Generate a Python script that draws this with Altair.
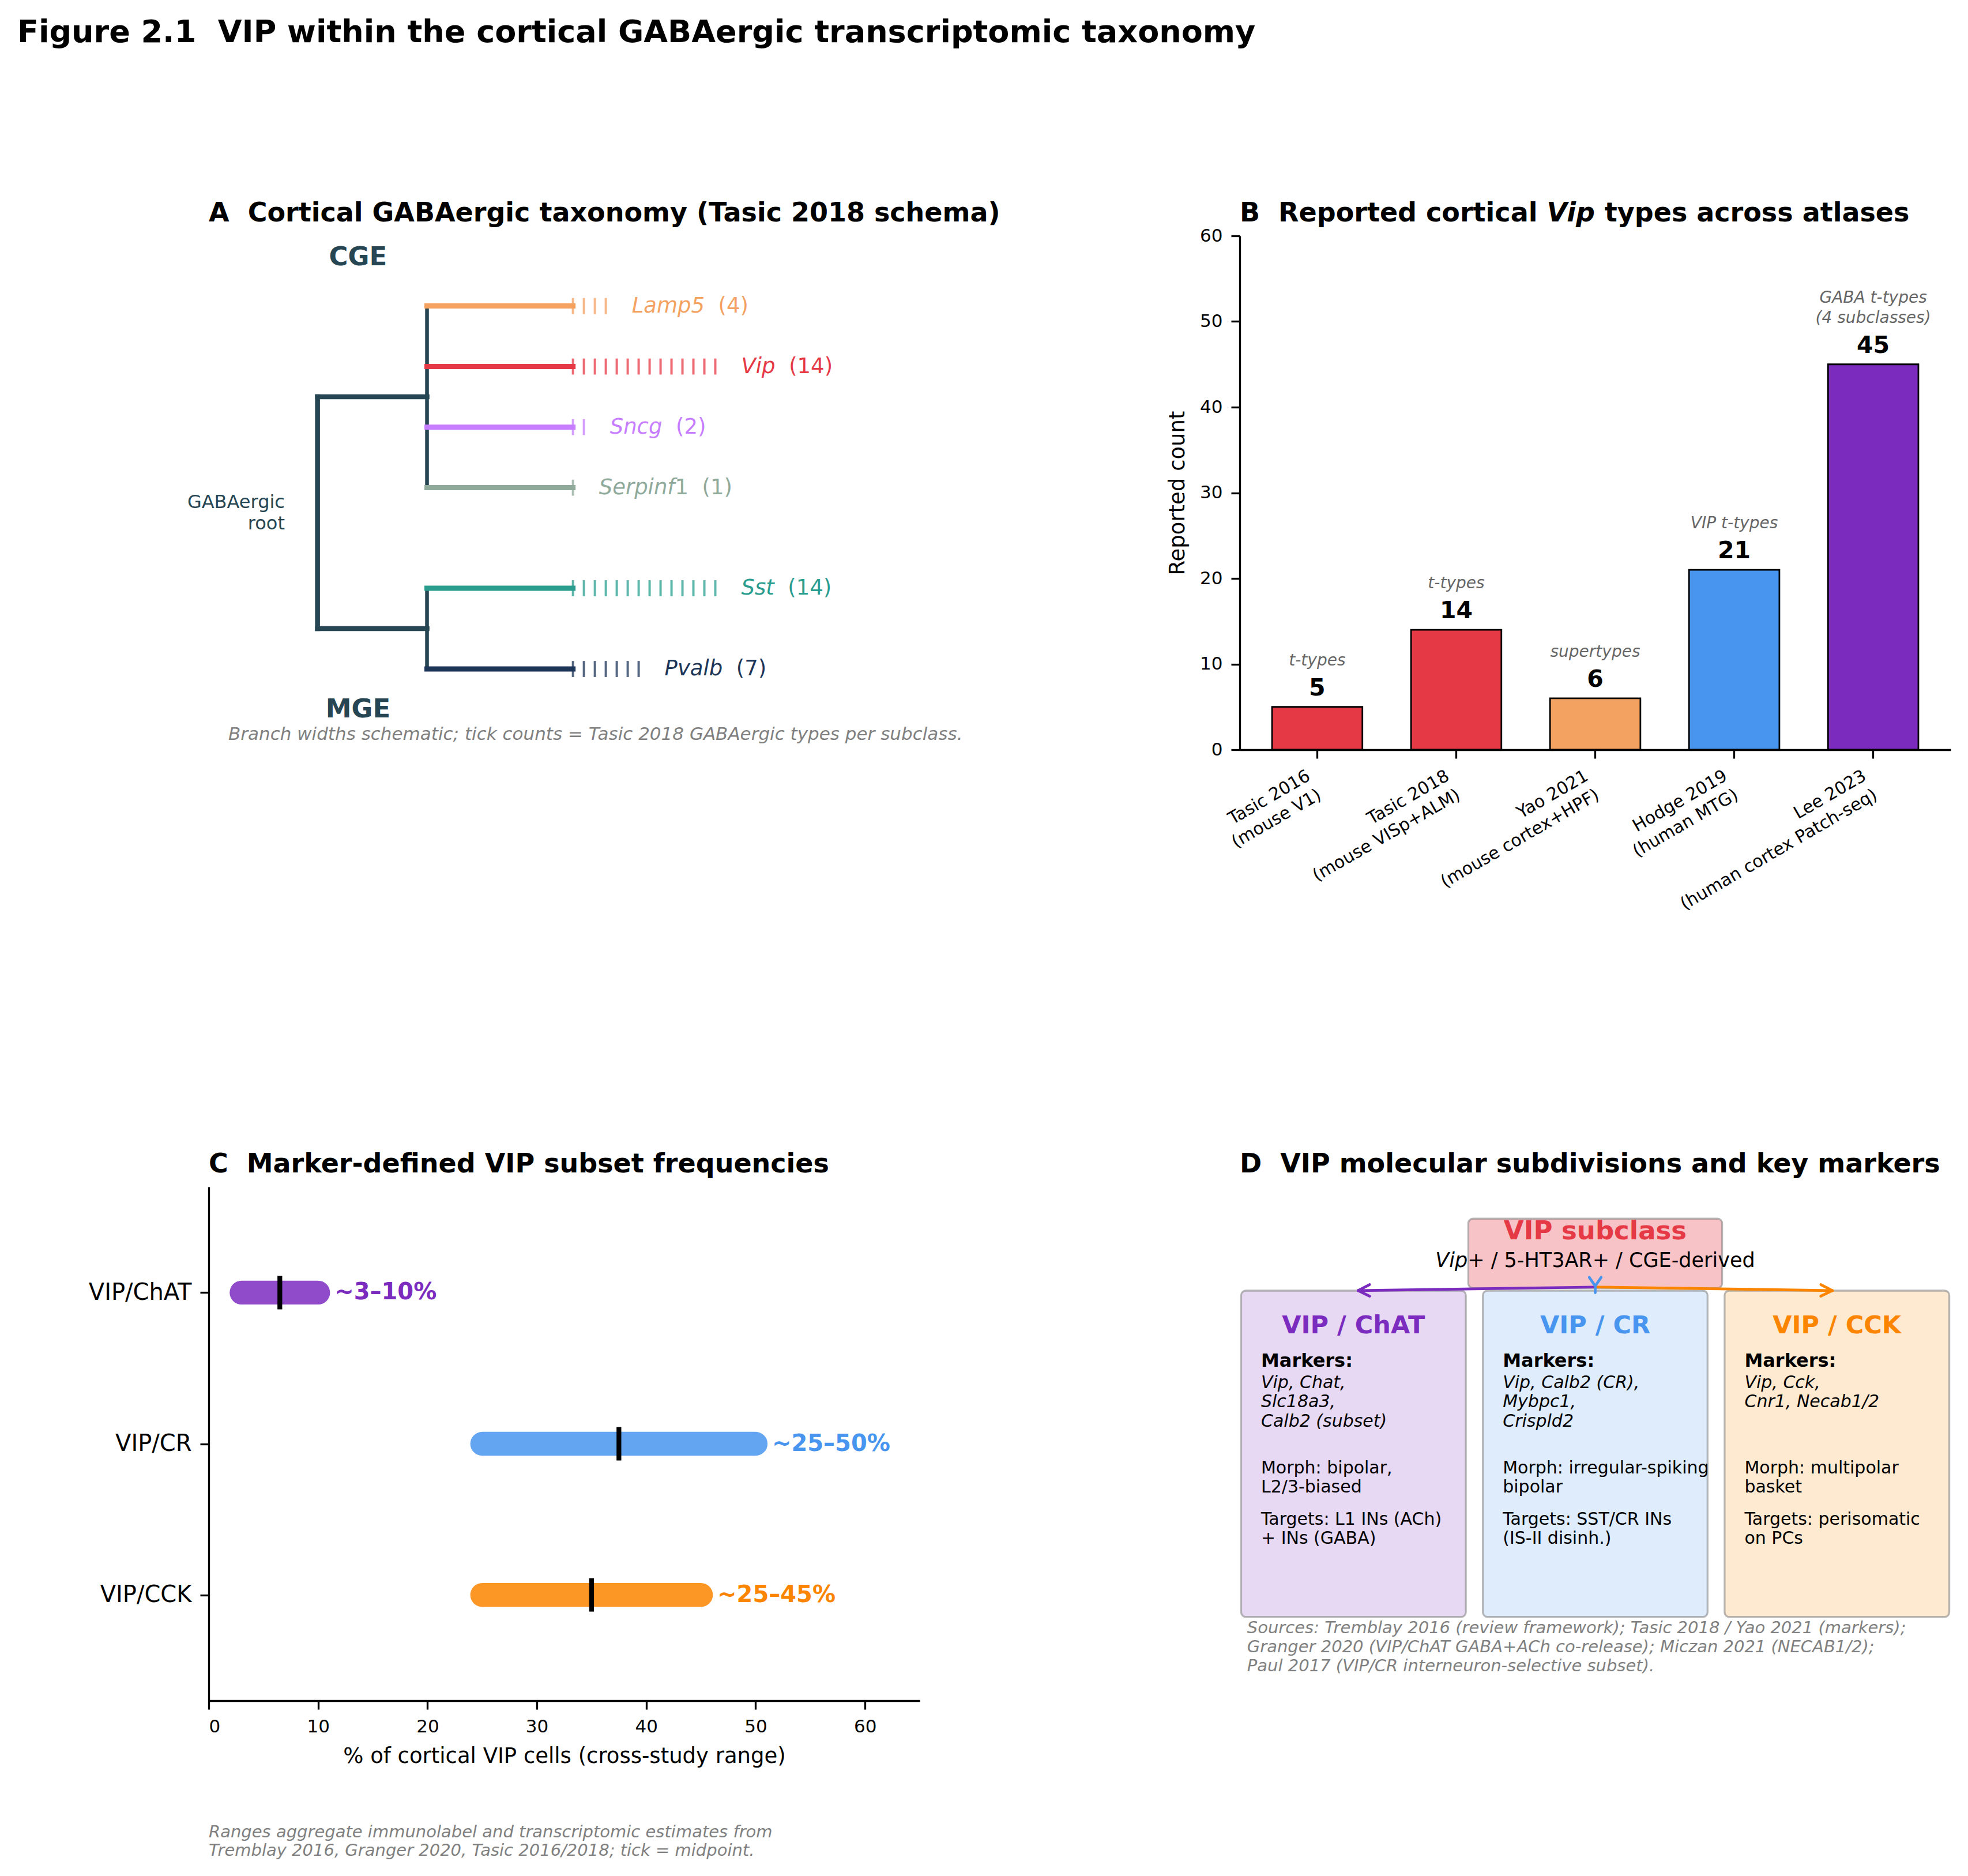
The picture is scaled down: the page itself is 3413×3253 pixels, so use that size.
import math
import altair as alt
import pandas as pd

FONT = "DejaVu Sans"
PW, PH = 1233, 891            # plot area of each panel (px)
COL_GAP, ROW_GAP = 555, 758   # gaps between plot areas
LEFT, TOP = 362, 409          # where the first plot area sits on the page
FIG_W, FIG_H = 3413, 3253
TREE = "#264653"
NOTE = "#808080"

# DejaVu Sans advance widths (em) used to join italic and upright runs
ADV = {" ": .318, "\u00a0": .318, "(": .390, ")": .390, "+": .838, "-": .361, "/": .337,
       ",": .318, ".": .318, "A": .684, "C": .698, "E": .632, "G": .775, "H": .752,
       "L": .557, "P": .603, "R": .695, "S": .635, "T": .611, "V": .684, "a": .613,
       "b": .635, "c": .550, "d": .635, "e": .615, "f": .352, "g": .635, "i": .278,
       "l": .278, "m": .974, "n": .634, "p": .635, "r": .411, "s": .521, "t": .392,
       "v": .592}
ADV.update({str(d): .636 for d in range(10)})
BOLD = {" ": .348, "\u00a0": .348, "B": .762, "R": .770, "V": .774, "a": .675, "c": .593,
        "d": .716, "e": .678, "i": .343, "l": .343, "o": .687, "p": .716, "r": .493, "t": .478}


def text_w(s, size, table=ADV):
    return size * sum(table.get(ch, 0.6) for ch in s)


one = pd.DataFrame({"k": [0]})

# ---------------- A: GABAergic taxonomy ----------------
sub_italic = ["Lamp5", "Vip", "Sncg", "Serpinf", "Sst", "Pvalb"]
sub_upright = ["", "", "", "1", "", ""]
sub_types = [4, 14, 2, 1, 14, 7]
sub_origin = ["CGE", "CGE", "CGE", "CGE", "MGE", "MGE"]
sub_colors = ["#F4A261", "#E63946", "#C77DFF", "#8FA99B", "#2A9D8F", "#1D3557"]
sub_y = [0.8635, 0.7457, 0.6278, 0.5100, 0.3143, 0.1571]

ROOT_X, NODE_X, BRANCH_END = 0.153, 0.307, 0.5123
TICK_STEP, TICK_HALF, LABEL_GAP = 0.0154, 0.0156, 0.0365
LABEL_SIZE = 37

sxA = alt.Scale(domain=[0, 1], nice=False, zero=False)
syA = alt.Scale(domain=[0, 1], nice=False, zero=False)


def ax(f):
    return alt.X(f, type="quantitative", scale=sxA, axis=None)


def ay(f):
    return alt.Y(f, type="quantitative", scale=syA, axis=None)


leaves = pd.DataFrame({"italic": sub_italic, "upright": sub_upright, "n": sub_types,
                       "origin": sub_origin, "color": sub_colors, "y": sub_y})
cge = leaves[leaves.origin == "CGE"].y
mge = leaves[leaves.origin == "MGE"].y
y_cge, y_mge = (cge.max() + cge.min()) / 2, (mge.max() + mge.min()) / 2
tree = pd.DataFrame([
    {"x": ROOT_X, "x2": ROOT_X, "y": y_cge, "y2": y_mge, "w": 8.5},
    {"x": ROOT_X, "x2": NODE_X, "y": y_cge, "y2": y_cge, "w": 8.5},
    {"x": ROOT_X, "x2": NODE_X, "y": y_mge, "y2": y_mge, "w": 8.5},
    {"x": NODE_X, "x2": NODE_X, "y": cge.max(), "y2": cge.min(), "w": 6.5},
    {"x": NODE_X, "x2": NODE_X, "y": mge.max(), "y2": mge.min(), "w": 6.5},
])
leaves["x0"] = NODE_X
leaves["x1"] = BRANCH_END
leaves["lx"] = BRANCH_END + (leaves.n - 1) * TICK_STEP + LABEL_GAP
# the upright part starts after the italic name (plus two spaces when it is only the count)
leaves["cx"] = leaves.lx + [
    (text_w(it, LABEL_SIZE) + (0 if up else text_w("  ", LABEL_SIZE))) / PW
    for it, up in zip(leaves.italic, leaves.upright)]
leaves["count_text"] = [(u + "\u00a0\u00a0" if u else "") + "(" + str(n) + ")"
                        for u, n in zip(leaves.upright, leaves.n)]

tick_rows = []
for _, r in leaves.iterrows():
    for i in range(r.n):
        tx = BRANCH_END + i * TICK_STEP
        tick_rows.append({"x": tx, "y": r.y - TICK_HALF, "y2": r.y + TICK_HALF, "color": r.color})
ticks = pd.DataFrame(tick_rows)

frame = alt.Chart(one).mark_rect(fill="white").encode(
    x=alt.value(-LEFT), x2=alt.value(FIG_W - LEFT), y=alt.value(-TOP), y2=alt.value(FIG_H - TOP))
fig_title = alt.Chart(one).mark_text(
    text="Figure 2.1\u00a0 VIP within the cortical GABAergic transcriptomic taxonomy",
    align="left", baseline="alphabetic", fontSize=54, fontWeight="bold", font=FONT, color="black"
).encode(x=alt.value(30 - LEFT), y=alt.value(73 - TOP))


def panel_title(text):
    return alt.Chart(one).mark_text(text=text, align="left", baseline="alphabetic", fontSize=46,
                                    fontWeight="bold", font=FONT, color="black"
                                    ).encode(x=alt.value(0), y=alt.value(-25))


tree_lines = alt.Chart(tree).mark_rule(color=TREE, strokeCap="square").encode(
    x=ax("x"), x2="x2:Q", y=ay("y"), y2="y2:Q", strokeWidth=alt.StrokeWidth("w:Q", scale=None))
branches = alt.Chart(leaves).mark_rule(strokeWidth=9, strokeCap="square").encode(
    x=ax("x0"), x2="x1:Q", y=ay("y"), color=alt.Color("color:N", scale=None))
tick_marks = alt.Chart(ticks).mark_rule(strokeWidth=4, opacity=0.75).encode(
    x=ax("x"), y=ay("y"), y2="y2:Q", color=alt.Color("color:N", scale=None))
names = alt.Chart(leaves).mark_text(align="left", baseline="middle", fontSize=LABEL_SIZE,
                                    fontStyle="italic", font=FONT).encode(
    x=ax("lx"), y=ay("y"), text="italic:N", color=alt.Color("color:N", scale=None))
counts = alt.Chart(leaves).mark_text(align="left", baseline="middle", fontSize=LABEL_SIZE,
                                     font=FONT).encode(
    x=ax("cx"), y=ay("y"), text="count_text:N", color=alt.Color("color:N", scale=None))
origins = pd.DataFrame({"t": ["CGE", "MGE"], "x": [0.21, 0.21], "y": [0.9589, 0.0786]})
origin_text = alt.Chart(origins).mark_text(align="center", baseline="middle", fontSize=45,
                                           fontWeight="bold", font=FONT, color=TREE).encode(
    x=ax("x"), y=ay("y"), text="t:N")
ROOT_LH = 37
# two-line label centred on the root: raise the first line by half a line
root_text = alt.Chart(pd.DataFrame({"x": [0.107],
                                    "y": [(y_cge + y_mge) / 2 + ROOT_LH / 2 / PH]})).mark_text(
    text="GABAergic\nroot", lineBreak="\n", lineHeight=ROOT_LH, align="right", baseline="middle",
    fontSize=32, font=FONT, color=TREE).encode(x=ax("x"), y=ay("y"))
note_a = alt.Chart(pd.DataFrame({"x": [0.544], "y": [0.0294]})).mark_text(
    text="Branch widths schematic; tick counts = Tasic 2018 GABAergic types per subclass.",
    align="center", baseline="middle", fontSize=31, fontStyle="italic", font=FONT, color=NOTE
).encode(x=ax("x"), y=ay("y"))

panel_a = alt.layer(frame, fig_title, panel_title("A\u00a0 Cortical GABAergic taxonomy (Tasic 2018 schema)"),
                    tree_lines, branches, tick_marks, names, counts, origin_text, root_text, note_a
                    ).properties(width=PW, height=PH)

# ---------------- B: Vip types across atlases ----------------
atlases = ["Tasic 2016\n(mouse V1)", "Tasic 2018\n(mouse VISp+ALM)", "Yao 2021\n(mouse cortex+HPF)",
           "Hodge 2019\n(human MTG)", "Lee 2023\n(human cortex Patch-seq)"]
vip_types = [5, 14, 6, 21, 45]
type_units = ["t-types", "t-types", "supertypes", "VIP t-types", "GABA t-types\n(4 subclasses)"]
atlas_colors = ["#E63946", "#E63946", "#F4A261", "#4895EF", "#7B2CBF"]

AXIS = dict(domainColor="black", domainWidth=3.3, tickColor="black", tickWidth=3.3, tickSize=15,
            labelColor="black", labelFont=FONT, titleFont=FONT, titleColor="black",
            titleFontWeight="normal", grid=False, labelPadding=15)

bdf = pd.DataFrame({"atlas": atlases, "count": vip_types, "unit": type_units, "color": atlas_colors})
bdf["lines"] = bdf.unit.str.count("\n") + 1
xB = alt.X("atlas:N", sort=atlases, scale=alt.Scale(paddingInner=0.35, paddingOuter=0.2325),
           axis=alt.Axis(title=None, labelAngle=330, labelAlign="right", labelBaseline="top",
                         labelFontSize=30, labelLineHeight=38, labelOffset=-22, labelOverlap=False,
                         labelLimit=0, labelExpr="split(datum.label, '\\n')", **AXIS))
yB = alt.Y("count:Q", scale=alt.Scale(domain=[0, 60], nice=False),
           axis=alt.Axis(values=list(range(0, 61, 10)), title="Reported count", titleFontSize=37,
                         titleX=-108, titleY=PH / 2, titleAngle=270, titleAlign="center",
                         titleBaseline="middle", labelFontSize=31, **AXIS))
baseB = alt.Chart(bdf).encode(x=xB, y=yB)
bars = baseB.mark_bar(stroke="black", strokeWidth=2.8).encode(color=alt.Color("color:N", scale=None))
bar_nums = baseB.mark_text(dy=-20, baseline="alphabetic", fontSize=41, fontWeight="bold",
                           font=FONT, color="black").encode(text="count:Q")
UNIT_LH = 35
unit_layers = [
    baseB.transform_filter(f"datum.lines == {k}").mark_text(
        dy=-72 - (k - 1) * UNIT_LH, baseline="alphabetic", lineBreak="\n", lineHeight=UNIT_LH,
        fontSize=28, fontStyle="italic", font=FONT, color="#666666").encode(text="unit:N")
    for k in sorted(bdf.lines.unique())]

b_lead = "B\u00a0 Reported cortical "
vip_x = text_w(b_lead, 46, BOLD)
rest_x = vip_x + text_w("Vip ", 46, BOLD)
title_b = alt.layer(
    alt.Chart(one).mark_text(text=b_lead.strip(), align="left", baseline="alphabetic", fontSize=46,
                             fontWeight="bold", font=FONT, color="black").encode(x=alt.value(0), y=alt.value(-25)),
    alt.Chart(one).mark_text(text="Vip", align="left", baseline="alphabetic", fontSize=46,
                             fontWeight="bold", fontStyle="italic", font=FONT, color="black"
                             ).encode(x=alt.value(vip_x), y=alt.value(-25)),
    alt.Chart(one).mark_text(text="types across atlases", align="left", baseline="alphabetic",
                             fontSize=46, fontWeight="bold", font=FONT, color="black"
                             ).encode(x=alt.value(rest_x), y=alt.value(-25)),
)
panel_b = alt.layer(bars, bar_nums, *unit_layers, title_b).properties(width=PW, height=PH)

# ---------------- C: marker-defined subset frequencies ----------------
subsets = ["VIP/ChAT", "VIP/CR", "VIP/CCK"]
subset_lo = [3, 25, 25]
subset_hi = [10, 50, 45]
subset_colors = ["#7B2CBF", "#4895EF", "#FB8500"]

cdf = pd.DataFrame({"subset": subsets, "lo": subset_lo, "hi": subset_hi, "color": subset_colors})
cdf["mid"] = (cdf.lo + cdf.hi) / 2
cdf["lx"] = cdf.hi + 1.5
cdf["label"] = [f"~{a}\u2013{b}%" for a, b in zip(cdf.lo, cdf.hi)]

sxC = alt.Scale(domain=[0, 65], nice=False, zero=False)
axC = alt.Axis(values=list(range(0, 61, 10)), title="% of cortical VIP cells (cross-study range)",
               titleFontSize=37, titleX=PW / 2, titleY=107, titleAlign="center",
               titleBaseline="alphabetic", labelFontSize=31, **AXIS)


def cx(f):
    return alt.X(f, type="quantitative", scale=sxC, axis=axC)


yC = alt.Y("subset:N", sort=subsets, scale=alt.Scale(type="point", padding=0.7),
           axis=alt.Axis(title=None, labelFontSize=40, **AXIS))
ranges = alt.Chart(cdf).mark_rule(strokeWidth=41.3, strokeCap="round", opacity=0.85).encode(
    x=cx("lo"), x2="hi:Q", y=yC, color=alt.Color("color:N", scale=None))
mids = alt.Chart(cdf).mark_tick(color="black", opacity=1, thickness=8.3, size=58,
                                orient="vertical").encode(x=cx("mid"), y=yC)
range_text = alt.Chart(cdf).mark_text(align="left", baseline="middle", fontSize=40, fontWeight="bold",
                                      font=FONT).encode(
    x=cx("lx"), y=yC, text="label:N", color=alt.Color("color:N", scale=None))
note_c = alt.Chart(one).mark_text(
    text="Ranges aggregate immunolabel and transcriptomic estimates from\n"
         "Tremblay 2016, Granger 2020, Tasic 2016/2018; tick = midpoint.",
    lineBreak="\n", lineHeight=31.5, align="left", baseline="alphabetic", fontSize=29,
    fontStyle="italic", font=FONT, color=NOTE).encode(x=alt.value(0), y=alt.value(1128))
panel_c = alt.layer(ranges, mids, range_text, note_c,
                    panel_title("C\u00a0 Marker-defined VIP subset frequencies")
                    ).properties(width=PW, height=PH)

# ---------------- D: molecular subdivisions ----------------
subdivisions = ["VIP / ChAT", "VIP / CR", "VIP / CCK"]
sub_fill = ["#7B2CBF", "#4895EF", "#FB8500"]
sub_markers = ["Vip, Chat,\nSlc18a3,\nCalb2 (subset)", "Vip, Calb2 (CR),\nMybpc1,\nCrispld2",
               "Vip, Cck,\nCnr1, Necab1/2"]
sub_morph = ["Morph: bipolar,\nL2/3-biased", "Morph: irregular-spiking\nbipolar", "Morph: multipolar\nbasket"]
sub_targets = ["Targets: L1 INs (ACh)\n+ INs (GABA)", "Targets: SST/CR INs\n(IS-II disinh.)",
               "Targets: perisomatic\non PCs"]
box_cx = [0.16, 0.50, 0.84]
BOX_HALF, BOX_TOP, BOX_BOTTOM, INSET = 0.158, 0.798, 0.163, 0.13
TOP_BOX = {"x": 0.5 - 0.1785, "x2": 0.5 + 0.1785, "y": 0.803, "y2": 0.938}
ARROW_FROM = (0.5, 0.805)

sxD = alt.Scale(domain=[0, 1], nice=False, zero=False)
syD = alt.Scale(domain=[0, 1], nice=False, zero=False)


def dx_(f):
    return alt.X(f, type="quantitative", scale=sxD, axis=None)


def dy_(f):
    return alt.Y(f, type="quantitative", scale=syD, axis=None)


ddf = pd.DataFrame({"name": subdivisions, "color": sub_fill, "markers": sub_markers,
                    "morph": sub_morph, "targets": sub_targets, "cx": box_cx})
ddf["x"] = ddf.cx - BOX_HALF
ddf["x2"] = ddf.cx + BOX_HALF
ddf["tx"] = ddf.cx - INSET
ddf["y"] = BOX_BOTTOM
ddf["y2"] = BOX_TOP
ddf["y_title"] = 0.7149
ddf["y_mk"] = 0.6498
ddf["y_genes"] = 0.6086
ddf["y_morph"] = 0.4422
ddf["y_targets"] = 0.3423

boxes = alt.Chart(ddf).mark_rect(cornerRadius=8, fillOpacity=0.18, stroke="#888888",
                                 strokeOpacity=0.6, strokeWidth=3.3).encode(
    x=dx_("x"), x2="x2:Q", y=dy_("y"), y2="y2:Q", fill=alt.Fill("color:N", scale=None))
top_box = alt.Chart(pd.DataFrame([TOP_BOX])).mark_rect(
    cornerRadius=8, fill="#E63946", fillOpacity=0.3, stroke="#888888", strokeOpacity=0.6,
    strokeWidth=3.3).encode(x=dx_("x"), x2="x2:Q", y=dy_("y"), y2="y2:Q")
top_title = alt.Chart(pd.DataFrame({"x": [0.5], "y": [0.8975]})).mark_text(
    text="VIP subclass", align="center", baseline="alphabetic", fontSize=45, fontWeight="bold",
    font=FONT, color="#E63946").encode(x=dx_("x"), y=dy_("y"))

sub_it, sub_up = "Vip", "+ / 5-HT3AR+ / CGE-derived"
line_w = text_w(sub_it, 35) + text_w(sub_up, 35)
join_x = 0.5 + (text_w(sub_it, 35) - line_w / 2) / PW
subline = pd.DataFrame({"x": [join_x], "y": [0.8437]})
top_sub = alt.layer(
    alt.Chart(subline).mark_text(text=sub_it, align="right", baseline="alphabetic", fontSize=35,
                                 fontStyle="italic", font=FONT, color="black").encode(x=dx_("x"), y=dy_("y")),
    alt.Chart(subline).mark_text(text=sub_up, align="left", baseline="alphabetic", fontSize=35,
                                 font=FONT, color="black").encode(x=dx_("x"), y=dy_("y")),
)


def arrow(x0, y0, x1, y1, color, shrink=8.0, head=20.0, half=10.0):
    """Line plus open arrow head, built in panel pixels and returned in axes fractions."""
    p0 = (x0 * PW, (1 - y0) * PH)
    p1 = (x1 * PW, (1 - y1) * PH)
    L = math.hypot(p1[0] - p0[0], p1[1] - p0[1])
    ux, uy = (p1[0] - p0[0]) / L, (p1[1] - p0[1]) / L
    tip = (p1[0] - ux * shrink, p1[1] - uy * shrink)
    back = (tip[0] - ux * head, tip[1] - uy * head)
    nx, ny = -uy, ux
    segs = [(p0, tip), (tip, (back[0] + nx * half, back[1] + ny * half)),
            (tip, (back[0] - nx * half, back[1] - ny * half))]
    return [{"x": a[0] / PW, "y": 1 - a[1] / PH, "x2": b[0] / PW, "y2": 1 - b[1] / PH, "color": color}
            for a, b in segs]


arrow_rows = arrow(ARROW_FROM[0], ARROW_FROM[1], box_cx[0], BOX_TOP, sub_fill[0])
arrow_rows += arrow(ARROW_FROM[0], ARROW_FROM[1], box_cx[2], BOX_TOP, sub_fill[2])
# the middle branch is so short that only its head shows
arrow_rows += [
    {"x": 0.5 - 0.0084, "y": 0.824, "x2": 0.5, "y2": 0.807, "color": sub_fill[1]},
    {"x": 0.5 + 0.0084, "y": 0.824, "x2": 0.5, "y2": 0.807, "color": sub_fill[1]},
    {"x": 0.5, "y": 0.807, "x2": 0.5, "y2": 0.794, "color": sub_fill[1]},
]
arrows = alt.Chart(pd.DataFrame(arrow_rows)).mark_rule(strokeWidth=4.7, strokeCap="round").encode(
    x=dx_("x"), x2="x2:Q", y=dy_("y"), y2="y2:Q", color=alt.Color("color:N", scale=None))

box_titles = alt.Chart(ddf).mark_text(align="center", baseline="alphabetic", fontSize=43,
                                      fontWeight="bold", font=FONT).encode(
    x=dx_("cx"), y=dy_("y_title"), text="name:N", color=alt.Color("color:N", scale=None))
mk_head = alt.Chart(ddf).mark_text(text="Markers:", align="left", baseline="alphabetic", fontSize=32,
                                   fontWeight="bold", font=FONT, color="black").encode(
    x=dx_("tx"), y=dy_("y_mk"))
genes = alt.Chart(ddf).mark_text(align="left", baseline="alphabetic", fontSize=30, fontStyle="italic",
                                 lineBreak="\n", lineHeight=33.4, font=FONT, color="black").encode(
    x=dx_("tx"), y=dy_("y_genes"), text="markers:N")
morph = alt.Chart(ddf).mark_text(align="left", baseline="alphabetic", fontSize=30, lineBreak="\n",
                                 lineHeight=33.4, font=FONT, color="black").encode(
    x=dx_("tx"), y=dy_("y_morph"), text="morph:N")
targets = alt.Chart(ddf).mark_text(align="left", baseline="alphabetic", fontSize=30, lineBreak="\n",
                                   lineHeight=33.4, font=FONT, color="black").encode(
    x=dx_("tx"), y=dy_("y_targets"), text="targets:N")
sources = alt.Chart(pd.DataFrame({"x": [0.0104], "y": [0.1315]})).mark_text(
    text="Sources: Tremblay 2016 (review framework); Tasic 2018 / Yao 2021 (markers);\n"
         "Granger 2020 (VIP/ChAT GABA+ACh co-release); Miczan 2021 (NECAB1/2);\n"
         "Paul 2017 (VIP/CR interneuron-selective subset).",
    lineBreak="\n", lineHeight=33, align="left", baseline="alphabetic", fontSize=29,
    fontStyle="italic", font=FONT, color=NOTE).encode(x=dx_("x"), y=dy_("y"))

panel_d = alt.layer(boxes, top_box, arrows, top_title, top_sub, box_titles, mk_head, genes, morph,
                    targets, sources,
                    panel_title("D\u00a0 VIP molecular subdivisions and key markers")
                    ).properties(width=PW, height=PH)

chart = alt.concat(panel_a, panel_b, panel_c, panel_d, columns=2,
                   spacing={"row": ROW_GAP, "column": COL_GAP}, bounds="flush",
                   padding=0).configure(font=FONT, background="white").configure_view(strokeWidth=0)

chart.save("out.html", embed_options={"renderer": "svg", "actions": False})
